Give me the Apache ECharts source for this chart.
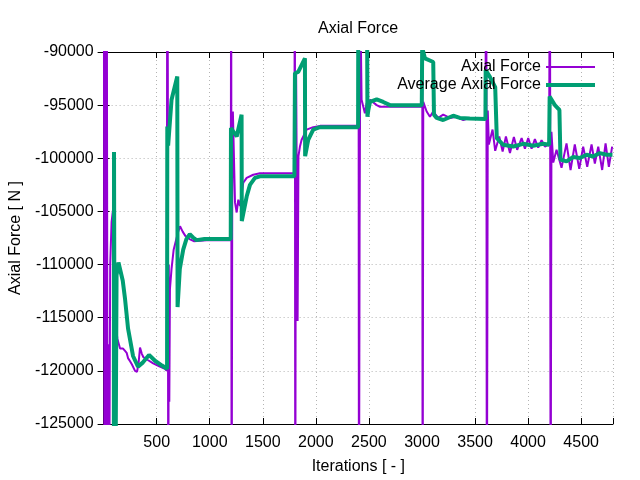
<!DOCTYPE html>
<html style="height: 100%">

    <head>
        <meta charset="utf-8">
        <title>Axial Force</title>
        <script src="https://cdn.jsdelivr.net/npm/echarts@6/dist/echarts.min.js"></script>
    </head>

    <body style="height: 100%; margin: 0">
        <div id="chart" style="width: 640px; height: 480px"></div>

        <script>
            // Axial Force (raw), iteration / value pairs
            const forceIter = [
                2, 8, 14, 22, 30, 38, 45, 52, 62, 75, 88, 98, 107, 130, 155, 183, 200, 217, 230, 249, 267, 296, 315, 330, 343, 360, 374, 420, 467, 530, 578, 596,
                599, 605, 609, 614, 619, 625, 640, 660, 700, 720, 745, 770, 810, 850, 1000, 1198,
                1202, 1206, 1212, 1218, 1238, 1254, 1269, 1285, 1316, 1348, 1410, 1473, 1798,
                1802, 1806, 1810, 1814, 1822, 1828, 1836, 1850, 1866, 1913, 1975, 2040, 2398,
                2402, 2406, 2412, 2420, 2431, 2462, 2478, 2510, 2573, 2604, 2998,
                3002, 3006, 3012, 3044, 3075, 3106, 3153, 3200, 3263, 3326, 3389, 3450, 3520, 3598,
                3606, 3611, 3620, 3630, 3640, 3665, 3690, 3728, 3760, 3791, 3829, 3866, 3897, 3939, 3970, 4001, 4033, 4064, 4095, 4127, 4158, 4198,
                4206, 4212, 4220, 4237, 4268, 4315, 4362, 4400, 4440, 4482, 4519, 4557, 4598, 4629, 4661, 4698, 4730, 4761, 4792
            ];
            const forceValue = [
                -75000, -140000, -78000, -140000, -80000, -140000, -117500, -135000, -110000, -106000, -104900, -112000, -115100, -117000, -117900, -117900, -118100, -118300, -118800, -119100, -119400, -120000, -120100, -119200, -117800, -118400, -118700, -119000, -119300, -119600, -119800, -120000,
                -75000, -91800, -140000, -110000, -122900, -112300, -110400, -108600, -107000, -106400, -106900, -107300, -107600, -107800, -107700, -107700,
                -75000, -140000, -104000, -95600, -104150, -105100, -103900, -104500, -102300, -101850, -101550, -101400, -101400,
                -75000, -140000, -106700, -91900, -91900, -115300, -99800, -98900, -98260, -97300, -97070, -96950, -96950,
                -75000, -140000, -107000, -86000, -94500, -95770, -94830, -94500, -95000, -95150, -95150,
                -75000, -140000, -94700, -95600, -96100, -95600, -96200, -95900, -96200, -96100, -96400, -96200, -96300, -96300,
                -75000, -140000, -95500, -98700, -98300, -97300, -99300, -97950, -99360, -97950, -99500, -98000, -99200, -98100, -99100, -98100, -99100, -98200, -99000, -98300, -98900, -98700,
                -75000, -140000, -97500, -100400, -99200, -100900, -98600, -101100, -98700, -101000, -98900, -100800, -98700, -100500, -98900, -101100, -98600, -100800, -98900
            ];

            // Average Axial Force
            const avgIter = [
                40, 96, 98, 104, 107, 114, 122, 140, 155, 180, 202, 230, 277, 324, 371, 428, 484, 550, 598,
                600, 608, 640, 694, 697, 718, 750, 780, 812, 843, 875, 950, 1198,
                1200, 1254, 1300, 1302, 1348, 1379, 1426, 1473, 1798,
                1803, 1834, 1897, 1899, 1928, 1975, 2038, 2398,
                2400, 2482, 2486, 2494, 2510, 2573, 2635, 2698, 2998,
                3002, 3028, 3106, 3113, 3138, 3200, 3294, 3357, 3450, 3598,
                3600, 3640, 3690, 3705, 3765, 3860, 3954, 4048, 4142, 4198,
                4203, 4252, 4295, 4305, 4362, 4425, 4488, 4551, 4613, 4676, 4739, 4795
            ];
            const avgValue = [
                -140000, -140000, -99400, -99400, -140000, -140000, -111000, -109800, -109650, -111500, -113250, -116000, -118600, -119600, -119200, -118500, -119050, -119500, -119800,
                -97000, -98800, -94500, -92300, -114000, -110400, -108600, -107600, -107150, -107450, -107700, -107600, -107600,
                -97150, -97950, -95900, -105900, -103600, -102500, -101850, -101700, -101700,
                -92000, -91870, -90600, -99800, -98260, -97300, -97070, -97070,
                -85000, -85000, -96100, -95500, -94700, -94450, -94700, -95000, -95000,
                -89600, -90600, -90940, -95900, -96200, -96400, -96000, -96200, -96250, -96300,
                -91700, -92340, -93300, -98100, -98730, -98890, -98640, -98820, -98640, -98730,
                -94200, -94990, -95450, -100130, -100290, -99880, -99980, -99670, -99830, -99510, -99670, -99670
            ];

            const xTicks = [500, 1000, 1500, 2000, 2500, 3000, 3500, 4000, 4500];

            const font = "'Liberation Sans', Arial, sans-serif";
            const gridLine = { show: true, lineStyle: { color: '#b4b4b4', width: 1, type: [1, 3] } };
            const tick = { show: true, inside: true, length: 6, lineStyle: { color: '#000' } };
            const border = { show: true, lineStyle: { color: '#000', width: 1 } };

            const option = {
                animation: false,
                backgroundColor: '#fff',
                textStyle: { fontFamily: font },
                title: {
                    text: 'Axial Force',
                    left: 318,
                    top: 21,
                    padding: 0,
                    textStyle: { fontFamily: font, fontSize: 16, fontWeight: 'normal', color: '#000' }
                },
                legend: {
                    orient: 'vertical',
                    right: 45,
                    top: 59,
                    padding: 0,
                    align: 'right',
                    itemWidth: 49,
                    itemHeight: 14,
                    itemGap: 2,
                    textStyle: { fontFamily: font, fontSize: 16, color: '#000' },
                    // plain line samples, thickness like the series
                    data: [
                        { name: 'Axial Force', icon: 'path://M0,0H49V2H0Z' },
                        { name: 'Average Axial Force', icon: 'path://M0,0H49V4H0Z' }
                    ]
                },
                grid: { left: 102, right: 27, top: 52, bottom: 54 },
                xAxis: [
                    {
                        type: 'value',
                        min: 0,
                        max: 4800,
                        interval: 500,
                        name: 'Iterations [ - ]',
                        nameLocation: 'middle',
                        nameGap: 35,
                        nameTextStyle: { fontFamily: font, fontSize: 16, color: '#000' },
                        axisLine: border,
                        axisTick: tick,
                        splitLine: gridLine,
                        axisLabel: {
                            fontFamily: font, fontSize: 16, color: '#000', margin: 11,
                            formatter: v => xTicks.includes(v) ? String(v) : ''
                        }
                    },
                    {
                        type: 'value',
                        position: 'top',
                        min: 0,
                        max: 4800,
                        interval: 500,
                        axisLine: border,
                        axisTick: tick,
                        splitLine: { show: false },
                        axisLabel: { show: false }
                    }
                ],
                yAxis: [
                    {
                        type: 'value',
                        min: -125000,
                        max: -90000,
                        interval: 5000,
                        name: 'Axial Force [ N ]',
                        nameLocation: 'middle',
                        nameGap: 78,
                        nameTextStyle: { fontFamily: font, fontSize: 16, color: '#000' },
                        axisLine: border,
                        axisTick: tick,
                        splitLine: gridLine,
                        axisLabel: {
                            fontFamily: font, fontSize: 16, color: '#000', margin: 10,
                            padding: [6, 0, 0, 0],
                            formatter: v => String(v)
                        }
                    },
                    {
                        type: 'value',
                        position: 'right',
                        min: -125000,
                        max: -90000,
                        interval: 5000,
                        axisLine: border,
                        axisTick: tick,
                        splitLine: { show: false },
                        axisLabel: { show: false }
                    }
                ],
                series: [
                    {
                        name: 'Axial Force',
                        type: 'line',
                        symbol: 'none',
                        xAxisIndex: 0,
                        yAxisIndex: 0,
                        color: '#9400d3',
                        lineStyle: { width: 2, color: '#9400d3' },
                        data: forceIter.map((x, i) => [x, forceValue[i]])
                    },
                    {
                        name: 'Average Axial Force',
                        type: 'line',
                        symbol: 'none',
                        xAxisIndex: 0,
                        yAxisIndex: 0,
                        color: '#009e73',
                        lineStyle: { width: 4, color: '#009e73' },
                        data: avgIter.map((x, i) => [x, avgValue[i]])
                    }
                ]
            };

            const chart = echarts.init(document.getElementById('chart'), null, { renderer: 'canvas' });
            chart.setOption(option);
        </script>
    </body>

</html>
